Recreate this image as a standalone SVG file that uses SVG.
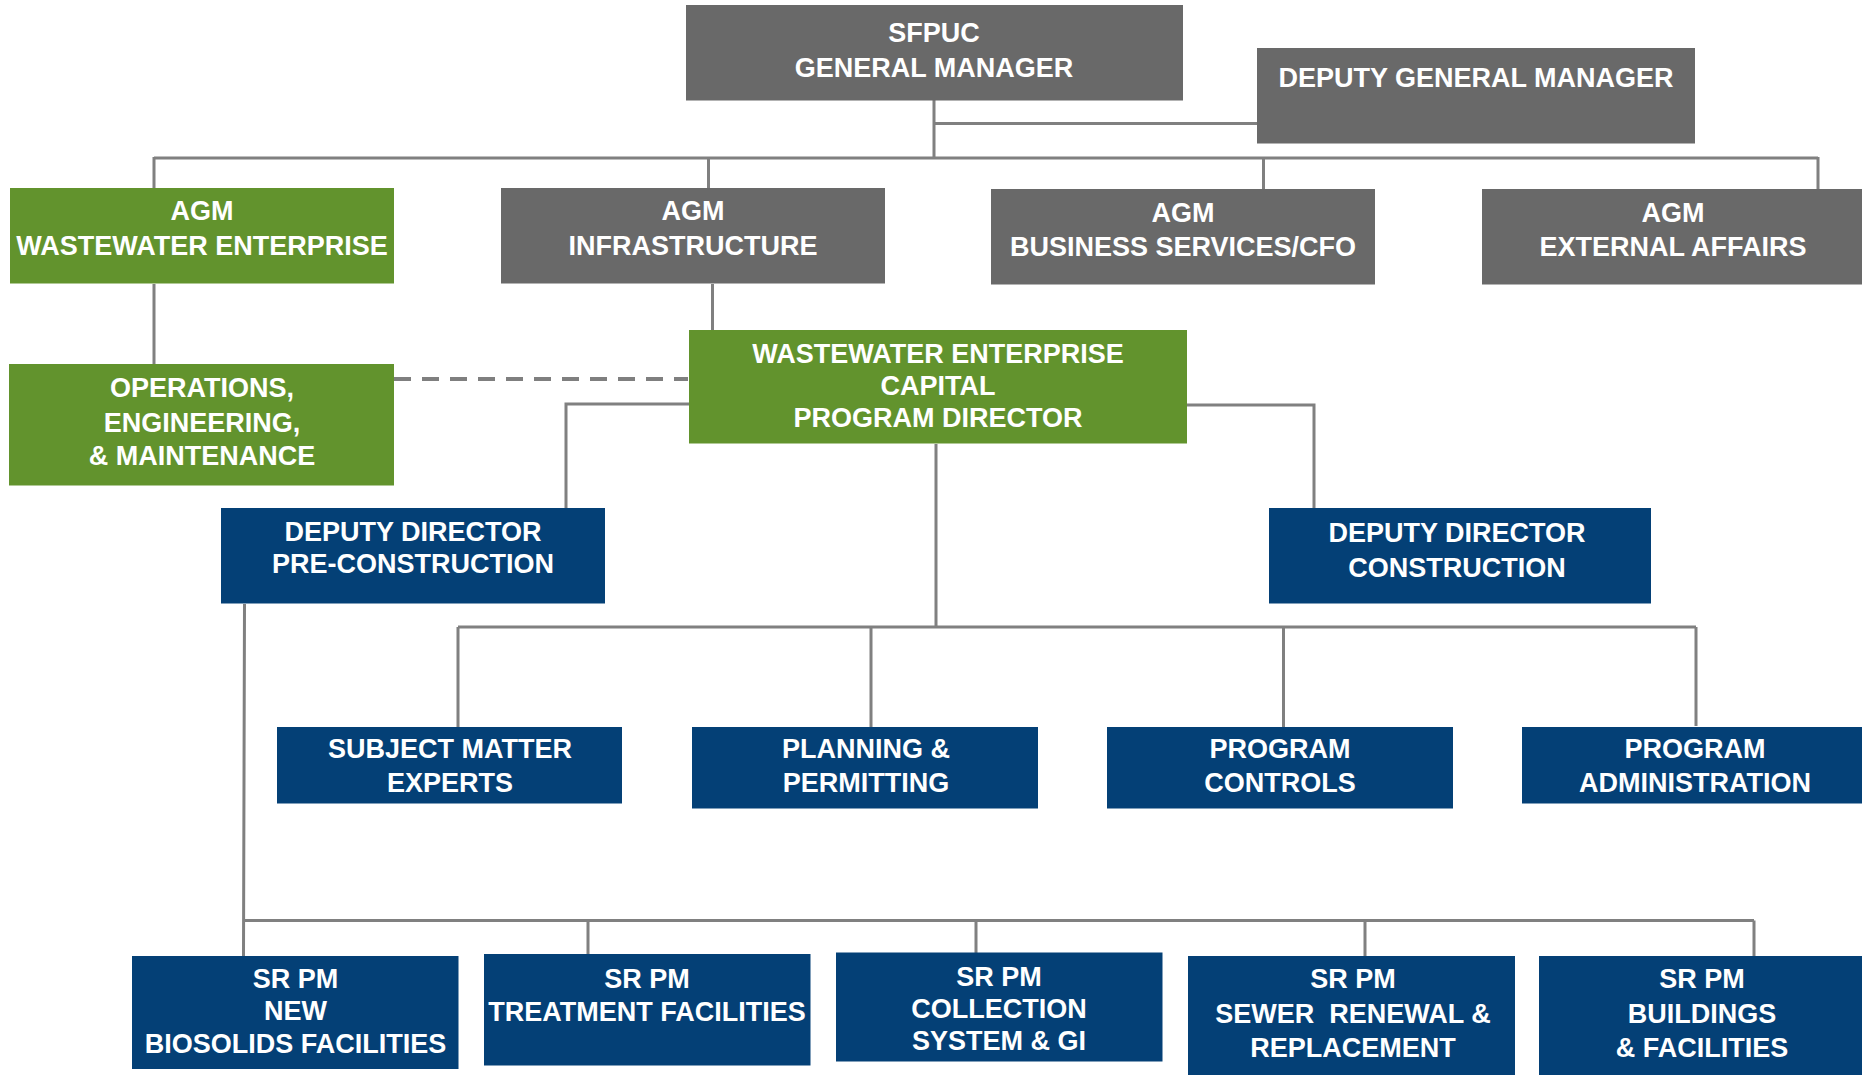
<svg xmlns="http://www.w3.org/2000/svg" width="1862" height="1075" viewBox="0 0 1862 1075">
<style>
.gray{fill:#696969}
.green{fill:#62932d}
.blue{fill:#044076}
text{font-family:"Liberation Sans",Arial,sans-serif;font-weight:bold;font-size:27px;fill:#ffffff;text-anchor:middle}
.ln{stroke:#808080;stroke-width:3;fill:none}
.dash{stroke:#7f7f7f;stroke-width:4;fill:none;stroke-dasharray:17 11}
</style>
<rect width="1862" height="1075" fill="#ffffff"/>
<g id="connectors">
<path class="ln" d="M934 100 V158 M934 123.5 H1258 M154 158 H1818 M154 157 V189 M708.5 157 V189 M1263.5 157 V190 M1818 157 V190"/>
<path class="ln" d="M154 284 V365 M712.5 284 V331"/>
<path class="dash" d="M394 379 H688"/>
<path class="ln" d="M689 404 H566 V509 M1187 405 H1314 V509"/>
<path class="ln" d="M936 444 V627 M458 627 H1696 M458 627 V728 M871 627 V728 M1283.5 627 V728 M1696 627 V726"/>
<path class="ln" d="M244.5 604 L243.5 957 M243.5 920.5 H1754 M588 920.5 V955 M976 920.5 V953 M1365 920.5 V957 M1754 920.5 V957"/>
</g>
<g id="sfpuc-gm"><rect class="gray" x="686" y="5" width="497" height="95.5"/><text x="934" y="42">SFPUC</text><text x="934" y="77">GENERAL MANAGER</text></g>
<g id="deputy-gm"><rect class="gray" x="1257" y="48" width="438" height="95.5"/><text x="1476" y="87">DEPUTY GENERAL MANAGER</text></g>
<g id="agm-wastewater"><rect class="green" x="10" y="188" width="384" height="95.5"/><text x="202" y="220">AGM</text><text x="202" y="255">WASTEWATER ENTERPRISE</text></g>
<g id="agm-infrastructure"><rect class="gray" x="501" y="188" width="384" height="95.5"/><text x="693" y="220">AGM</text><text x="693" y="255">INFRASTRUCTURE</text></g>
<g id="agm-business"><rect class="gray" x="991" y="189" width="384" height="95.5"/><text x="1183" y="221.5">AGM</text><text x="1183" y="256">BUSINESS SERVICES/CFO</text></g>
<g id="agm-external"><rect class="gray" x="1482" y="189" width="380" height="95.5"/><text x="1673" y="221.5">AGM</text><text x="1673" y="256">EXTERNAL AFFAIRS</text></g>
<g id="operations"><rect class="green" x="9" y="364" width="385" height="121.5"/><text x="202" y="397">OPERATIONS,</text><text x="202" y="432">ENGINEERING,</text><text x="202" y="465">&amp; MAINTENANCE</text></g>
<g id="capital-director"><rect class="green" x="689" y="330" width="498" height="113.5"/><text x="938" y="362.5">WASTEWATER ENTERPRISE</text><text x="938" y="394.5">CAPITAL</text><text x="938" y="426.5">PROGRAM DIRECTOR</text></g>
<g id="dd-preconstruction"><rect class="blue" x="221" y="508" width="384" height="95.5"/><text x="413" y="540.5">DEPUTY DIRECTOR</text><text x="413" y="572.5">PRE-CONSTRUCTION</text></g>
<g id="dd-construction"><rect class="blue" x="1269" y="508" width="382" height="95.5"/><text x="1457" y="542">DEPUTY DIRECTOR</text><text x="1457" y="577">CONSTRUCTION</text></g>
<g id="sme"><rect class="blue" x="277" y="727" width="345" height="76.5"/><text x="450" y="757.5">SUBJECT MATTER</text><text x="450" y="791.5">EXPERTS</text></g>
<g id="planning"><rect class="blue" x="692" y="727" width="346" height="81.5"/><text x="866" y="757.5">PLANNING &amp;</text><text x="866" y="791.5">PERMITTING</text></g>
<g id="controls"><rect class="blue" x="1107" y="727" width="346" height="81.5"/><text x="1280" y="757.5">PROGRAM</text><text x="1280" y="791.5">CONTROLS</text></g>
<g id="administration"><rect class="blue" x="1522" y="727" width="340" height="76.5"/><text x="1695" y="757.5">PROGRAM</text><text x="1695" y="791.5">ADMINISTRATION</text></g>
<g id="srpm-biosolids"><rect class="blue" x="132" y="956" width="326.5" height="113"/><text x="295.5" y="988">SR PM</text><text x="295.5" y="1020">NEW</text><text x="295.5" y="1052.5">BIOSOLIDS FACILITIES</text></g>
<g id="srpm-treatment"><rect class="blue" x="484" y="954" width="326.5" height="111.5"/><text x="647" y="987.5">SR PM</text><text x="647" y="1021">TREATMENT FACILITIES</text></g>
<g id="srpm-collection"><rect class="blue" x="836" y="952.5" width="326.5" height="109"/><text x="999" y="985.5">SR PM</text><text x="999" y="1018">COLLECTION</text><text x="999" y="1049.5">SYSTEM &amp; GI</text></g>
<g id="srpm-sewer"><rect class="blue" x="1188" y="956" width="327" height="119"/><text x="1353" y="988">SR PM</text><text x="1353" y="1023" xml:space="preserve">SEWER  RENEWAL &amp;</text><text x="1353" y="1057">REPLACEMENT</text></g>
<g id="srpm-buildings"><rect class="blue" x="1539" y="956" width="323" height="119"/><text x="1702" y="988">SR PM</text><text x="1702" y="1023">BUILDINGS</text><text x="1702" y="1057">&amp; FACILITIES</text></g>
</svg>
